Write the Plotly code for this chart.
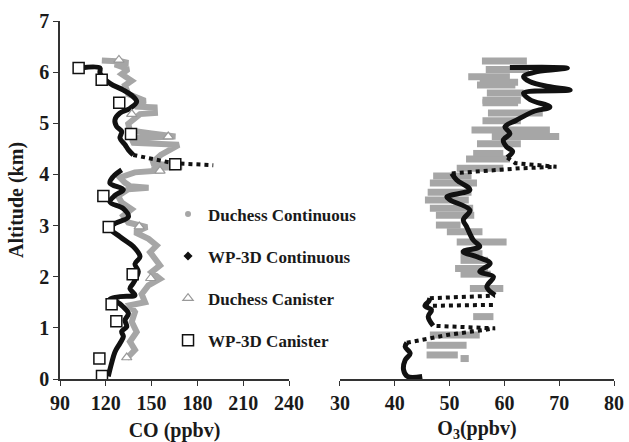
import plotly.graph_objects as go

# ---------------- CO panel ----------------
# Duchess continuous CO profile (altitude km, CO ppbv)
duchess_co_alt = [0.40, 0.57, 0.73, 0.92, 1.12, 1.31, 1.44, 1.50, 1.66, 1.83, 1.96, 2.09, 2.22,
                  2.35, 2.48, 2.61, 2.74, 2.87, 2.97, 3.06, 3.19, 3.32, 3.45, 3.58, 3.71, 3.74,
                  3.77, 3.84, 3.94, 4.04, 4.08, 4.12, 4.15, 4.22, 4.38, 4.58, 4.62, 4.71, 4.74,
                  4.80, 4.86, 4.99, 5.18, 5.20, 5.31, 5.33, 5.44, 5.57, 5.74, 5.83, 5.96, 6.06,
                  6.15, 6.18, 6.21, 6.23]
duchess_co = [133.7, 139.1, 135.8, 140.2, 137.0, 139.1, 135.8, 145.7, 143.5, 147.9, 155.5, 150.0, 155.5,
              152.2, 149.0, 153.3, 148.0, 139.1, 147.0, 134.7, 131.4, 136.9, 130.4, 128.0, 134.7, 148.0,
              136.0, 132.5, 129.3, 139.0, 158.0, 150.0, 170.0, 150.0, 156.0, 167.8, 137.0, 139.0, 165.6,
              150.0, 135.8, 134.7, 142.4, 152.2, 152.0, 139.0, 145.7, 134.7, 132.5, 136.9, 130.4, 134.7,
              126.0, 134.7, 130.4, 117.4]

# WP-3D continuous CO, lower profile
wp3d_co_low_alt = [0.05, 0.31, 0.53, 0.70, 0.83, 0.93, 1.02, 1.15, 1.28, 1.41, 1.51, 1.56, 1.61,
                   1.64, 1.77, 1.87, 2.10, 2.25, 2.39, 2.59, 2.78, 2.95, 3.04, 3.17, 3.33, 3.46,
                   3.59, 3.70, 3.83, 3.96, 4.09]
wp3d_co_low = [121.6, 123.8, 126.0, 129.3, 131.5, 130.4, 133.7, 132.6, 134.8, 131.5, 127.1, 122.7, 129.3,
               139.1, 135.8, 137.9, 141.3, 139.1, 142.4, 138.0, 129.3, 122.7, 126.0, 134.8, 131.5, 122.7,
               126.0, 131.5, 122.7, 124.9, 130.4]
# WP-3D continuous CO, sparse excursion near 4.2 km
wp3d_co_spike_alt = [4.38, 4.33, 4.22, 4.18]
wp3d_co_spike = [138.0, 146.7, 164.2, 190.4]
# WP-3D continuous CO, upper profile
wp3d_co_high_alt = [4.38, 4.48, 4.58, 4.71, 4.84, 4.94, 5.07, 5.20, 5.29, 5.42, 5.52, 5.65, 5.78,
                    5.98, 6.08, 6.08]
wp3d_co_high = [138.0, 134.8, 132.6, 129.3, 130.4, 127.0, 126.0, 129.3, 135.8, 140.2, 138.0, 131.5, 122.7,
                116.2, 116.2, 103.0]

# Canister samples, CO
wp3d_can_alt = [6.08, 5.85, 5.40, 4.79, 4.20, 3.58, 2.97, 2.05, 1.46, 1.13, 0.40, 0.06]
wp3d_can_co = [102.2, 117.3, 128.8, 136.5, 165.5, 118.4, 121.9, 137.6, 123.8, 126.9, 115.8, 117.5]
duchess_can_alt = [6.24, 5.18, 4.74, 4.07, 2.98, 1.97, 0.42]
duchess_can_co = [128.6, 137.0, 160.9, 155.5, 141.9, 149.4, 133.7]

# ---------------- O3 panel ----------------
# Duchess continuous O3: horizontal spread (low/high) at each level
duchess_o3_alt = [0.40, 0.47, 0.66, 0.86, 1.22, 1.77, 2.05, 2.16, 2.32, 2.45, 2.68, 2.88, 3.01,
                  3.20, 3.34, 3.50, 3.65, 3.83, 3.97, 4.12, 4.30, 4.41, 4.60, 4.74, 4.87, 5.05,
                  5.20, 5.40, 5.45, 5.59, 5.75, 5.80, 5.91, 6.05, 6.22]
duchess_o3_lo = [52.0, 45.8, 45.8, 46.4, 54.3, 53.7, 52.0, 51.0, 52.0, 52.0, 51.3, 49.5, 47.5,
                 47.5, 46.4, 45.5, 46.0, 46.4, 47.0, 51.3, 53.0, 54.3, 55.0, 57.7, 54.0, 56.0,
                 57.0, 56.0, 56.0, 56.8, 55.0, 55.5, 53.4, 56.6, 55.9]
duchess_o3_hi = [53.5, 51.5, 53.1, 55.5, 58.0, 59.8, 57.5, 57.0, 57.0, 56.0, 60.4, 56.0, 52.0,
                 54.5, 54.3, 53.5, 54.0, 55.0, 54.0, 59.8, 61.0, 59.8, 63.0, 70.0, 68.3, 63.0,
                 67.0, 62.5, 63.0, 63.5, 62.0, 62.5, 61.0, 64.5, 64.1]

# WP-3D continuous O3, dense stretches
wp3d_o3_a_alt = [0.05, 0.05, 0.18, 0.37, 0.50, 0.63, 0.71]
wp3d_o3_a = [45.0, 42.3, 41.6, 41.9, 42.8, 41.9, 42.2]
wp3d_o3_b_alt = [1.04, 1.22, 1.35, 1.43, 1.52, 1.58]
wp3d_o3_b = [47.0, 46.1, 46.7, 45.5, 46.2, 46.4]
wp3d_o3_c_alt = [1.64, 1.80, 2.00, 2.10, 2.26, 2.39, 2.49, 2.59, 2.72, 2.98, 3.11, 3.30, 3.50,
                 3.56, 3.70, 3.89, 4.02]
wp3d_o3_c = [58.3, 56.8, 58.0, 55.5, 57.4, 55.0, 52.5, 55.5, 54.3, 53.1, 52.5, 53.7, 50.1,
             49.5, 53.7, 51.3, 50.4]
wp3d_o3_d_alt = [4.33, 4.45, 4.54, 4.67, 4.80, 4.93, 5.06, 5.23, 5.32, 5.46, 5.59, 5.65, 5.72,
                 5.81, 5.91, 6.01, 6.08, 6.09]
wp3d_o3_d = [60.5, 61.5, 60.4, 59.8, 61.0, 60.1, 62.2, 65.3, 68.3, 64.7, 63.5, 72.0, 68.0,
             64.7, 63.5, 66.0, 71.5, 61.0]
# WP-3D continuous O3, sparse (fast climb/descent) stretches
wp3d_o3_sparse = [
    ([0.71, 0.86, 0.99, 1.04], [42.2, 49.5, 58.3, 47.0]),
    ([1.43, 1.45], [45.5, 58.5]),
    ([1.58, 1.63], [46.4, 58.3]),
    ([4.02, 4.12, 4.15, 4.22, 4.33], [50.4, 62.8, 69.5, 62.0, 60.5]),
]

GRAY = "#a6a6a6"
BLACK = "#111111"
FONT = "Liberation Serif"
TXT = "#1a1a1a"


def streaks(alt, lo, hi):
    """One horizontal stroke per altitude level, separated by gaps."""
    xs, ys = [], []
    for a, l, h in zip(alt, lo, hi):
        xs += [l, h, None]
        ys += [a, a, None]
    return xs, ys


fig = go.Figure()

# Duchess continuous
fig.add_trace(go.Scatter(x=duchess_co, y=duchess_co_alt, mode="lines", line=dict(color=GRAY, width=6),
                         xaxis="x", yaxis="y", showlegend=False, hoverinfo="skip"))
ox, oy = streaks(duchess_o3_alt, duchess_o3_lo, duchess_o3_hi)
fig.add_trace(go.Scatter(x=ox, y=oy, mode="lines", line=dict(color=GRAY, width=7),
                         connectgaps=False, xaxis="x2", yaxis="y2", showlegend=False, hoverinfo="skip"))

# WP-3D continuous, CO
for xs, ys in [(wp3d_co_low, wp3d_co_low_alt), (wp3d_co_high, wp3d_co_high_alt)]:
    fig.add_trace(go.Scatter(x=xs, y=ys, mode="lines", line=dict(color=BLACK, width=5, shape="spline"),
                             xaxis="x", yaxis="y", showlegend=False))
fig.add_trace(go.Scatter(x=wp3d_co_spike, y=wp3d_co_spike_alt, mode="lines",
                         line=dict(color=BLACK, width=4, dash="dot"),
                         xaxis="x", yaxis="y", showlegend=False))

# WP-3D continuous, O3
for xs, ys in [(wp3d_o3_a, wp3d_o3_a_alt), (wp3d_o3_b, wp3d_o3_b_alt),
               (wp3d_o3_c, wp3d_o3_c_alt), (wp3d_o3_d, wp3d_o3_d_alt)]:
    fig.add_trace(go.Scatter(x=xs, y=ys, mode="lines", line=dict(color=BLACK, width=5, shape="spline"),
                             xaxis="x2", yaxis="y2", showlegend=False))
for ys, xs in wp3d_o3_sparse:
    fig.add_trace(go.Scatter(x=xs, y=ys, mode="lines", line=dict(color=BLACK, width=4, dash="dot"),
                             xaxis="x2", yaxis="y2", showlegend=False))

# Canister samples
fig.add_trace(go.Scatter(x=duchess_can_co, y=duchess_can_alt, mode="markers",
                         marker=dict(symbol="triangle-up", size=9, color="white",
                                     line=dict(color="#999999", width=1.2)),
                         xaxis="x", yaxis="y", showlegend=False))
fig.add_trace(go.Scatter(x=wp3d_can_co, y=wp3d_can_alt, mode="markers",
                         marker=dict(symbol="square", size=11, color="white",
                                     line=dict(color=BLACK, width=1.5)),
                         xaxis="x", yaxis="y", showlegend=False))

# Legend entries
legend_items = [
    ("Duchess Continuous", dict(symbol="circle", size=6, color=GRAY)),
    ("WP-3D Continuous", dict(symbol="diamond", size=7, color=BLACK)),
    ("Duchess Canister", dict(symbol="triangle-up-open", size=9, color="#999999", line=dict(width=1.2))),
    ("WP-3D Canister", dict(symbol="square-open", size=11, color=BLACK, line=dict(width=1.5))),
]
for i, (name, mk) in enumerate(legend_items):
    fig.add_trace(go.Scatter(x=[None], y=[None], mode="markers", name=name, marker=mk,
                             legendgroup=f"g{i}", xaxis="x", yaxis="y"))

title_font = dict(family=FONT, size=20, color=TXT, weight="bold")
axis_common = dict(showgrid=False, zeroline=False, ticks="outside", ticklen=5, tickwidth=1.2,
                   tickcolor="#333", showline=True, linecolor="#333", linewidth=1.5,
                   automargin=False,
                   tickfont=dict(family=FONT, size=20, color=TXT, weight="bold"))

fig.update_layout(
    width=629, height=442,
    margin=dict(l=60, r=15, t=21, b=63),
    paper_bgcolor="white", plot_bgcolor="white",
    font=dict(family=FONT, size=18, color=TXT, weight="bold"),
    xaxis=dict(domain=[0, 0.4134], range=[90, 240], tickvals=[90, 120, 150, 180, 210, 240],
               anchor="y", title=dict(text="CO (ppbv)", standoff=14, font=title_font),
               **axis_common),
    yaxis=dict(domain=[0, 1], range=[0, 7], tickvals=list(range(8)), anchor="x",
               title=dict(text="Altitude (km)", standoff=10, font=title_font),
               **axis_common),
    xaxis2=dict(domain=[0.5054, 1], range=[30, 80], tickvals=[30, 40, 50, 60, 70, 80],
                anchor="y2", title=dict(text="O<sub>3</sub>(ppbv)", standoff=14, font=title_font),
                **axis_common),
    yaxis2=dict(domain=[0, 1], range=[0, 7], anchor="x2", visible=False),
    legend=dict(x=0.195, y=0.51, xanchor="left", yanchor="top", traceorder="grouped",
                tracegroupgap=17, bgcolor="rgba(0,0,0,0)",
                font=dict(family=FONT, size=17, color=TXT, weight="bold")),
)

fig.write_html("out.html")
